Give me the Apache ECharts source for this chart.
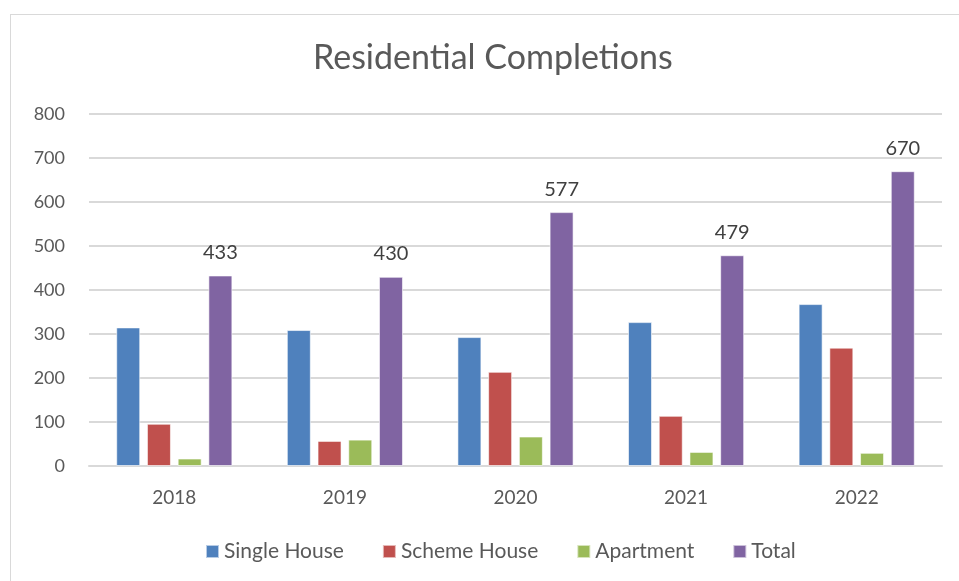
<!DOCTYPE html>
<html>
<head>
<meta charset="utf-8">
<script src="https://cdn.jsdelivr.net/npm/echarts@6/dist/echarts.min.js"></script>
<style>
  html, body { margin: 0; padding: 0; background: #fff; }
  #frame { position: absolute; left: 10px; top: 14px; width: 960px; height: 580px; border: 1px solid #d9d9d9; box-sizing: border-box; }
  #chart { width: 959px; height: 581px; position: absolute; left: 0; top: 0; }
</style>
</head>
<body>
<div id="frame"></div>
<div id="chart"></div>
<script>
// values
const years = ['2018', '2019', '2020', '2021', '2022'];
const singleHouse = [315, 309, 293, 327, 368];
const schemeHouse = [96, 57, 214, 114, 269];
const apartment = [17, 60, 67, 32, 30];
const total = [433, 430, 577, 479, 670];
const yTicks = [0, 100, 200, 300, 400, 500, 600, 700, 800];

const font = 'Lato, "Open Sans", sans-serif';
const txt = '#595959';

const chart = echarts.init(document.getElementById('chart'));

function bar(name, data, color, withLabel) {
  return {
    name: name,
    type: 'bar',
    data: data,
    barWidth: 24,
    barGap: '28%',
    itemStyle: { color: color, borderColor: 'rgba(255,255,255,0.6)', borderWidth: 1 },
    label: {
      show: withLabel,
      position: 'top',
      distance: 13,
      color: '#404040',
      fontSize: 20,
      fontFamily: font
    }
  };
}

chart.setOption({
  animation: false,
  title: {
    text: 'Residential Completions',
    left: 308,
    top: 36,
    textStyle: { fontSize: 34, fontWeight: 'normal', color: txt, fontFamily: font }
  },
  legend: {
    bottom: 14,
    left: 200,
    itemWidth: 13,
    itemHeight: 13,
    itemGap: 38,
    icon: 'rect',
    textStyle: { fontSize: 21, color: txt, fontFamily: font }
  },
  grid: { left: 89, right: 17, top: 114, bottom: 115, containLabel: false },
  xAxis: {
    type: 'category',
    data: years,
    axisLine: { lineStyle: { color: '#d9d9d9', width: 2 } },
    axisTick: { show: false },
    axisLabel: { fontSize: 19, color: txt, fontFamily: font, margin: 22 }
  },
  yAxis: {
    type: 'value',
    min: yTicks[0],
    max: yTicks[yTicks.length - 1],
    interval: 100,
    axisLine: { show: false },
    axisTick: { show: false },
    axisLabel: { fontSize: 18, color: txt, fontFamily: font, margin: 24, align: 'right' },
    splitLine: { lineStyle: { color: '#d9d9d9', width: 2 } }
  },
  series: [
    bar('Single House', singleHouse, '#4f81bd', false),
    bar('Scheme House', schemeHouse, '#c0504d', false),
    bar('Apartment', apartment, '#9bbb59', false),
    bar('Total', total, '#8064a2', true)
  ]
});
</script>
</body>
</html>
